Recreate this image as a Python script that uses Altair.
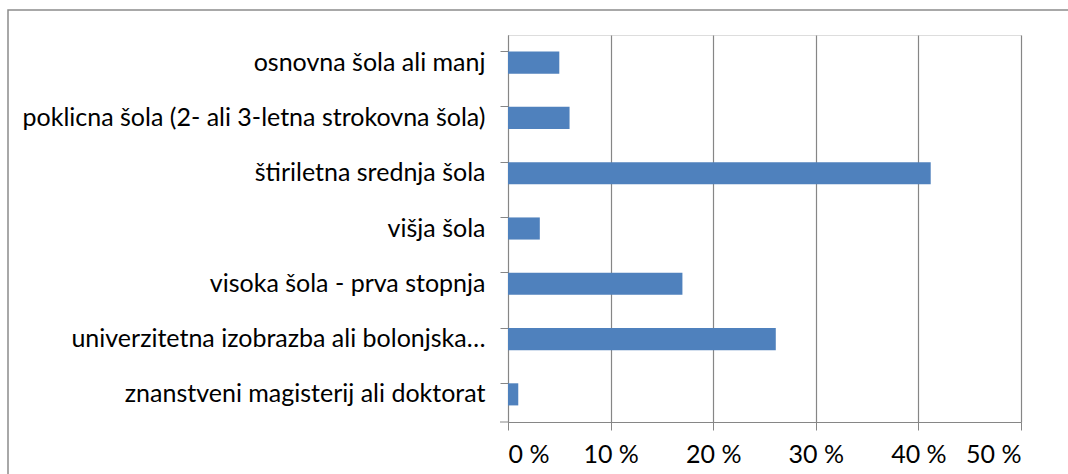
import altair as alt
import pandas as pd

categories = [
    "osnovna šola ali manj",
    "poklicna šola (2- ali 3-letna strokovna šola)",
    "štiriletna srednja šola",
    "višja šola",
    "visoka šola - prva stopnja",
    "univerzitetna izobrazba ali bolonjska…",
    "znanstveni magisterij ali doktorat",
]
values = [5, 6, 41.2, 3.1, 17, 26.1, 1]
x_ticks = [0, 10, 20, 30, 40, 50]

df = pd.DataFrame({"cat": categories, "val": values})

FONT = "Lato"
FS = 25
GRAY = "#868686"
LEFT, TOP, W, H = 508, 35, 513, 387

bars = alt.Chart(df).mark_bar(color="#4F81BD").encode(
    y=alt.Y("cat:N", sort=categories, title=None,
            scale=alt.Scale(paddingInner=0.6, paddingOuter=0.3),
            axis=alt.Axis(labelFont=FONT, labelFontSize=FS, labelColor="#000000",
                          labelPadding=15, tickSize=8, tickColor=GRAY, domainColor=GRAY,
                          bandPosition=0, labelLimit=700, grid=False)),
    x=alt.X("val:Q", title=None,
            scale=alt.Scale(domain=[0, 50], nice=False),
            axis=alt.Axis(values=x_ticks, labelExpr="datum.value + ' %'",
                          labelFont=FONT, labelFontSize=FS, labelColor="#000000",
                          labelPadding=12, tickSize=8, tickColor=GRAY, domainColor=GRAY,
                          gridColor=GRAY, gridWidth=1.2, grid=True)),
)

deco = pd.DataFrame({"a": [0]})

bottom_tick = alt.Chart(deco).mark_rule(color=GRAY, strokeWidth=1).encode(
    x=alt.value(-8), x2=alt.value(0), y=alt.value(H),
)

border = alt.Chart(deco).mark_rect(
    fill=None, stroke="#8c8c8c", strokeWidth=1.5
).encode(
    x=alt.value(8 - LEFT), x2=alt.value(1090 - LEFT),
    y=alt.value(10 - TOP), y2=alt.value(500 - TOP),
)

chart = alt.layer(border, bars, bottom_tick).properties(
    width=W, height=H,
    padding={"left": LEFT, "top": TOP, "right": 1068 - LEFT - W, "bottom": 474 - TOP - H},
    autosize=alt.AutoSizeParams(type="none"),
).configure_view(stroke=None).configure(background="white")

chart.save("out.html", embed_options={"renderer": "svg", "actions": False})
